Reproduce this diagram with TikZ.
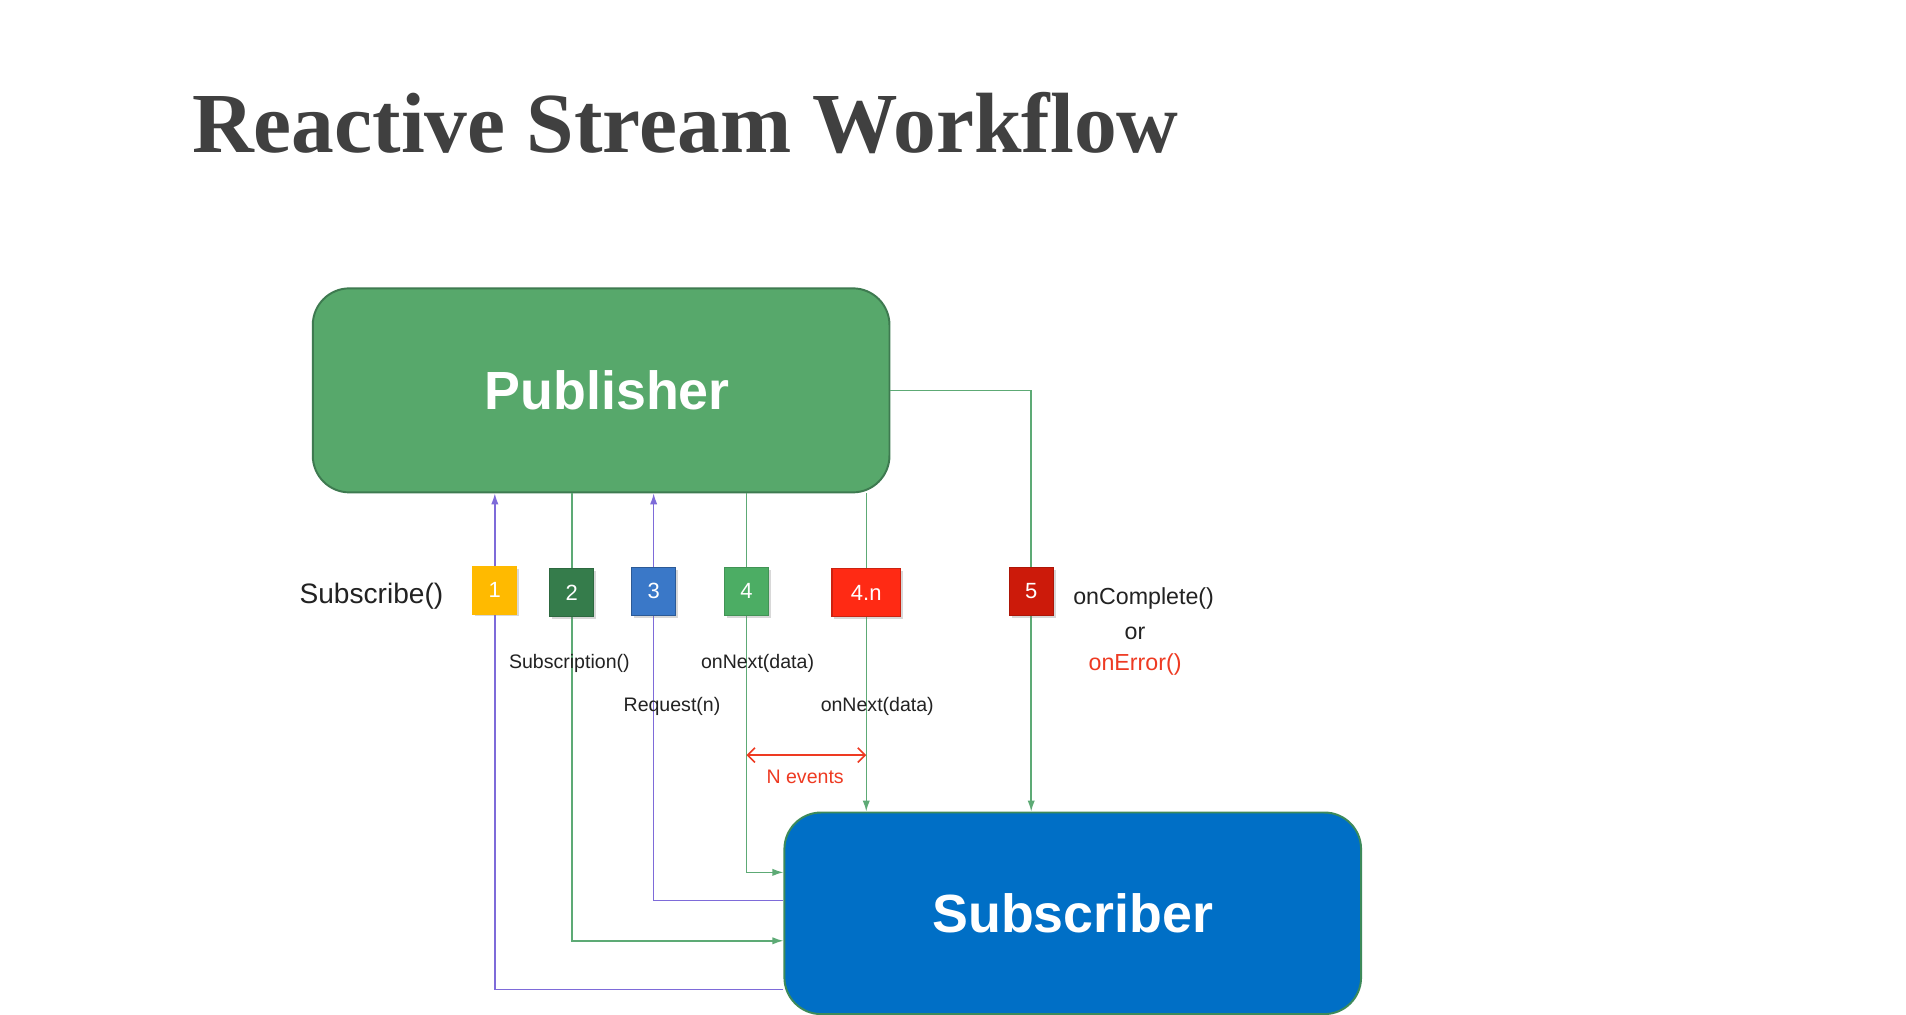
\documentclass[tikz,border=0pt]{standalone}
\usepackage{fontspec}
\setmainfont{Liberation Sans}
\newfontfamily\titlefont{Liberation Serif}
\usepackage{xcolor}
\usetikzlibrary{arrows.meta,shadows}
\definecolor{pubgreen}{HTML}{57A86B}
\definecolor{pubedge}{HTML}{3E7A50}
\definecolor{subblue}{HTML}{006FC6}
\definecolor{subedge}{HTML}{3D8A5A}
\definecolor{linegreen}{HTML}{5DAA75}
\definecolor{linepurple}{HTML}{7E6BD9}
\definecolor{sqyellow}{HTML}{FFBA00}
\definecolor{sqdark}{HTML}{357C4B}
\definecolor{sqblue}{HTML}{3A78C8}
\definecolor{sqgreen}{HTML}{4CAD64}
\definecolor{sqred}{HTML}{FF2A14}
\definecolor{sqdeep}{HTML}{CC1A0A}
\definecolor{evred}{HTML}{EE3A22}
\definecolor{titlegray}{HTML}{404040}
\definecolor{lbltext}{HTML}{222222}
\begin{document}
\begin{tikzpicture}[x=1pt,y=-1pt,
  bigbox/.style={rectangle,rounded corners=30pt,minimum width=472pt,minimum height=167pt,line width=1.6pt,text=white,font=\fontsize{44}{48}\selectfont\bfseries},
  stepsq/.style={rectangle,minimum width=36pt,minimum height=39pt,inner sep=0pt,text=white,line width=1pt,font=\fontsize{18}{20}\selectfont,drop shadow={shadow xshift=2pt,shadow yshift=-2pt,opacity=0.3}},
  gline/.style={draw=linegreen,line width=1.2pt},
  pline/.style={draw=linepurple,line width=1.2pt},
  tip/.style={-{Latex[length=9pt,width=6pt]}},
  lbl/.style={text=lbltext,font=\fontsize{16}{18}\selectfont},
  mid/.style={text=lbltext,font=\fontsize{19}{22}\selectfont}]
  \useasboundingbox[fill=white] (0,0) rectangle (1560,830);
  \node[anchor=base west,inner sep=0pt,text=titlegray,font=\titlefont\fontsize{70}{80}\selectfont\bfseries] (title) at (157,125) {Reactive Stream Workflow};
  \node[bigbox,fill=pubgreen,draw=pubedge] (pub) at (492,319.5) {\hspace*{10pt}Publisher};
  \node[bigbox,fill=subblue,draw=subedge,minimum height=165pt] (sub) at (878,747.5) {Subscriber};
  \coordinate (x1) at (405,483);
  \coordinate (x2) at (468,485);
  \coordinate (x3) at (535,484);
  \coordinate (x4) at (611,484);
  \coordinate (x4n) at (709,485);
  \coordinate (x5) at (844,484);
  \coordinate (r1) at (0,810);
  \coordinate (r2) at (0,770);
  \coordinate (r3) at (0,737);
  \coordinate (r4) at (0,714);
  \coordinate (nev) at (0,618);
  \draw[pline,tip] (sub.west |- r1) -| (pub.south -| x1);
  \draw[gline,tip] (pub.south -| x2) |- (sub.west |- r2);
  \draw[pline,tip] (sub.west |- r3) -| (pub.south -| x3);
  \draw[gline,tip] (pub.south -| x4) |- (sub.west |- r4);
  \draw[gline,tip] (pub.south -| x4n) -- (sub.north -| x4n);
  \draw[gline,tip] (pub.east) -| (sub.north -| x5);
  \draw[evred,line width=1.3pt,{Straight Barb[length=6pt,width=12pt]}-{Straight Barb[length=6pt,width=12pt]}] (nev -| x4) -- (nev -| x4n);
  \node[stepsq,fill=sqyellow,draw=sqyellow] (s1) at (x1) {1};
  \node[stepsq,fill=sqdark,draw=sqdark!85!black] (s2) at (x2) {2};
  \node[stepsq,fill=sqblue,draw=sqblue!75!black] (s3) at (x3) {3};
  \node[stepsq,fill=sqgreen,draw=sqgreen!85!black] (s4) at (x4) {4};
  \node[stepsq,fill=sqred,draw=sqred!80!black,minimum width=56pt] (s4n) at (x4n) {4.n};
  \node[stepsq,fill=sqdeep,draw=sqdeep!85!black] (s5) at (x5) {5};
  \node[text=lbltext,font=\fontsize{23}{26}\selectfont] (subscribe) at (304,488) {Subscribe()};
  \node[lbl] (subscription) at (466,543) {Subscription()};
  \node[lbl] (next1) at (620,543) {onNext(data)};
  \node[lbl] (request) at (550,578) {Request(n)};
  \node[lbl] (next2) at (718,578) {onNext(data)};
  \node[lbl,text=evred] (events) at (659,636) {N events};
  \node[mid] (complete) at (936,490) {onComplete()};
  \node[mid] (or) at (929,518) {or};
  \node[mid,text=evred] (error) at (929,544) {onError()};
\end{tikzpicture}
\end{document}
